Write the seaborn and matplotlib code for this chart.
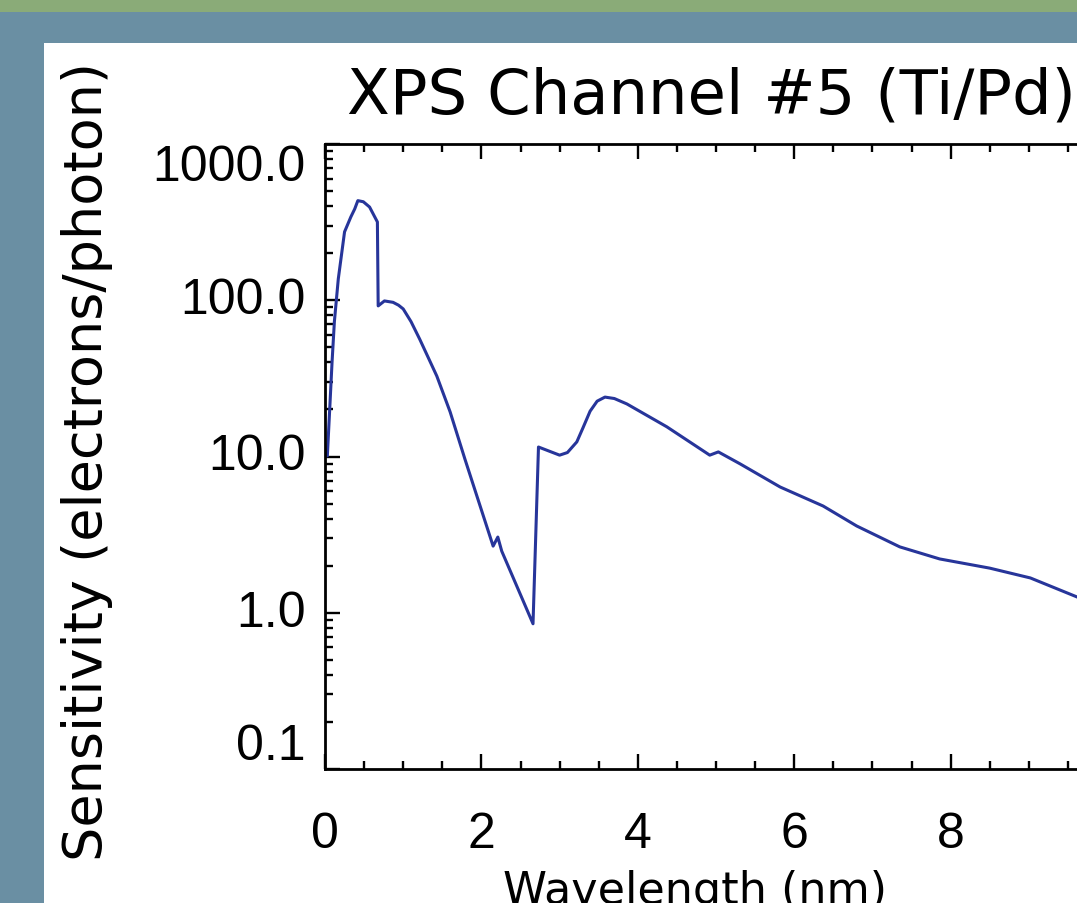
import matplotlib
matplotlib.use("Agg")
import matplotlib.pyplot as plt
import pandas as pd
import seaborn as sns
from matplotlib.patches import Rectangle
from matplotlib.ticker import LogLocator, MultipleLocator, NullFormatter

# XPS channel #5 (Ti/Pd) sensitivity curve
wavelength_nm = [0.03, 0.06, 0.09, 0.12, 0.17, 0.25, 0.33, 0.38, 0.42, 0.49,
                 0.57, 0.67, 0.68, 0.76, 0.87, 0.94, 1.00, 1.10, 1.21, 1.32,
                 1.43, 1.60, 1.79, 2.15, 2.21, 2.26, 2.66, 2.73, 3.00, 3.10,
                 3.22, 3.30, 3.39, 3.48, 3.58, 3.70, 3.86, 4.37, 4.92, 5.03,
                 5.31, 5.82, 6.37, 6.80, 7.35, 7.86, 8.50, 9.02, 9.62, 10.0]
sensitivity = [10.1, 20.0, 40.0, 73.0, 137.0, 274.0, 341.0, 384.0, 434.0, 427.0,
               395.0, 317.0, 92.0, 99.0, 97.0, 93.0, 88.0, 73.0, 56.5, 43.0,
               32.7, 19.3, 9.6, 2.67, 3.05, 2.48, 0.85, 11.5, 10.2, 10.6,
               12.4, 15.3, 19.5, 22.6, 24.0, 23.5, 21.7, 15.5, 10.2, 10.7,
               8.96, 6.38, 4.82, 3.59, 2.64, 2.21, 1.93, 1.67, 1.26, 1.05]

x_ticks = [0, 2, 4, 6, 8]
x_tick_labels = ["0", "2", "4", "6", "8"]
y_ticks = [0.1, 1.0, 10.0, 100.0, 1000.0]
y_tick_labels = ["0.1", "1.0", "10.0", "100.0", "1000.0"]

title_text = "XPS Channel #5 (Ti/Pd)"
x_label = "Wavelength (nm)"
y_label = "Sensitivity (electrons/photon)"

sns.set_style("ticks")
plt.rcParams["font.family"] = ["DejaVu Sans"]
plt.rcParams["text.color"] = "black"
plt.rcParams["axes.labelcolor"] = "black"
plt.rcParams["axes.edgecolor"] = "black"
plt.rcParams["xtick.color"] = "black"
plt.rcParams["ytick.color"] = "black"

W, H = 1077, 904
fig = plt.figure(figsize=(W / 100, H / 100), dpi=100)
fig.patch.set_facecolor("#6a8fa3")
# white slide panel and green header strip
fig.add_artist(Rectangle((44 / W, 0), 1, 1 - 44 / H, transform=fig.transFigure,
                         facecolor="white", edgecolor="none", zorder=-2))
fig.add_artist(Rectangle((0, 1 - 13 / H), 1, 13 / H, transform=fig.transFigure,
                         facecolor="#8aab78", edgecolor="none", zorder=-2))

# plot frame runs past the right edge of the canvas (x range 0-10)
ax = fig.add_axes([325 / W, 134 / H, 782 / W, 625 / H])
ax.set_facecolor("none")

df = pd.DataFrame({"wavelength": wavelength_nm, "sensitivity": sensitivity})
sns.lineplot(data=df, x="wavelength", y="sensitivity", ax=ax, color="#27359a",
             linewidth=2.2, sort=False, estimator=None)

ax.set_yscale("log")
ax.set_xlim(0, 10)
ax.set_ylim(0.1, 1000)

ax.set_xticks(x_ticks)
ax.set_xticklabels(x_tick_labels)
ax.xaxis.set_minor_locator(MultipleLocator(0.5))
ax.set_yticks(y_ticks)
ax.set_yticklabels(y_tick_labels)
ax.yaxis.set_minor_locator(LogLocator(base=10, subs=range(2, 10)))
ax.yaxis.set_minor_formatter(NullFormatter())

for side in ["left", "bottom", "top", "right"]:
    ax.spines[side].set_linewidth(2.0)
    ax.spines[side].set_color("black")

ax.tick_params(which="both", direction="in", top=True, right=True, width=1.7)
ax.tick_params(which="major", length=11)
ax.tick_params(which="minor", length=6)
ax.tick_params(axis="x", which="major", pad=30, labelsize=36,
               labelfontfamily="Liberation Sans")
ax.tick_params(axis="y", which="major", pad=14, labelsize=36,
               labelfontfamily="Liberation Sans")

# end labels sit inside the frame
ylabs = ax.get_yticklabels()
ylabs[0].set_va("bottom")
ylabs[-1].set_va("top")
for lab in ylabs[1:-1]:
    lab.set_va("center")

ax.set_title(title_text, fontsize=45, pad=23, x=0.494)
ax.set_xlabel(x_label, fontsize=32)
ax.xaxis.set_label_coords(0.473, -0.16)
ax.set_ylabel(y_label, fontsize=39)
ax.yaxis.set_label_coords(-0.271, 0.494)

fig.savefig("out.png", dpi=100)
